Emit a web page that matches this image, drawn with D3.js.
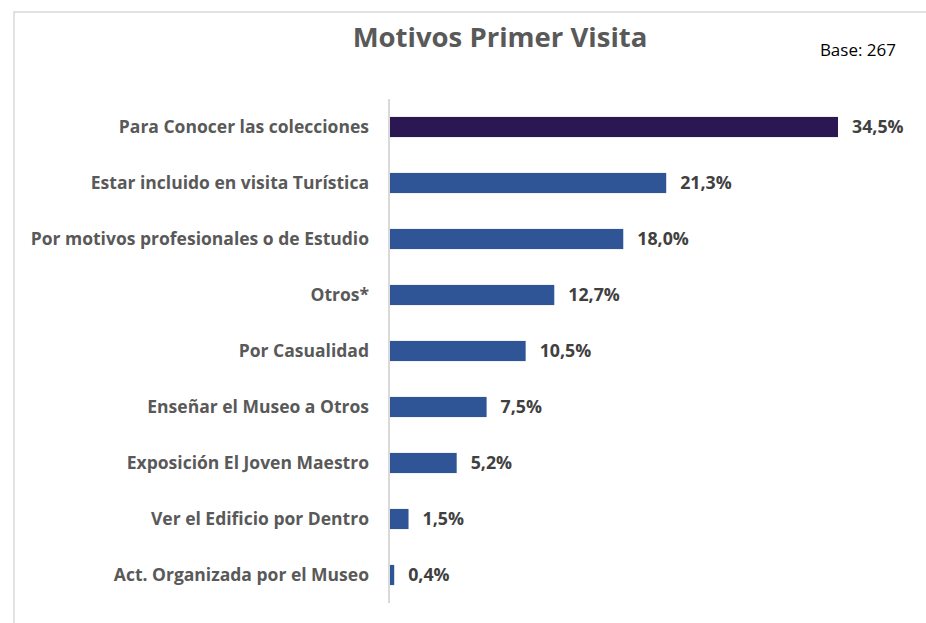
<!DOCTYPE html>
<html><head><meta charset="utf-8">
<script src="https://cdn.jsdelivr.net/npm/d3@7"></script>
<style>body{margin:0;background:#fff;} svg{display:block;}</style>
</head><body>
<svg id="c" width="926" height="623"></svg>
<script>
const categories = ["Para Conocer las colecciones","Estar incluido en visita Turística","Por motivos profesionales o de Estudio","Otros*","Por Casualidad","Enseñar el Museo a Otros","Exposición El Joven Maestro","Ver el Edificio por Dentro","Act. Organizada por el Museo"];
const values = [34.5,21.3,18.0,12.7,10.5,7.5,5.2,1.5,0.4];
const labels = ["34,5%","21,3%","18,0%","12,7%","10,5%","7,5%","5,2%","1,5%","0,4%"];
const colors = ["#2b1852","#2f5597"];

const svg = d3.select("#c");
const FONT = "'Open Sans', 'Liberation Sans', sans-serif";

// chart border
svg.append("rect").attr("x",14).attr("y",12).attr("width",930).attr("height",640)
  .attr("fill","none").attr("stroke","#d9d9d9").attr("stroke-width",1.5);

const x = d3.scaleLinear().domain([0,34.5]).range([389,838]);
const y = d3.scaleBand().domain(categories).range([99,603]).paddingInner(0.64).paddingOuter(0.32);

svg.append("text").attr("x",500).attr("y",47).attr("text-anchor","middle")
  .attr("font-family",FONT).attr("font-weight","bold").attr("font-size",27.5).attr("fill","#595959")
  .text("Motivos Primer Visita");
svg.append("text").attr("x",896).attr("y",56).attr("text-anchor","end")
  .attr("font-family",FONT).attr("font-size",17).attr("fill","#000")
  .text("Base: 267");

svg.selectAll("rect.bar").data(categories).join("rect").attr("class","bar")
  .attr("x",x(0)+1).attr("y",d=>y(d)).attr("height",y.bandwidth())
  .attr("width",(d,i)=>x(values[i])-x(0)-1)
  .attr("fill",(d,i)=>i===0?colors[0]:colors[1]);

const yAxis = d3.axisLeft(y).tickSize(0).tickPadding(20);
const g = svg.append("g").attr("transform","translate(389,0)").call(yAxis);
g.select(".domain").attr("stroke","#d9d9d9").attr("stroke-width",2)
  .attr("d","M0,99V603");
g.selectAll("text").attr("font-family",FONT).attr("font-weight","bold").attr("font-size",17.5).attr("fill","#595959");

svg.selectAll("text.val").data(categories).join("text").attr("class","val")
  .attr("x",(d,i)=>x(values[i])+14).attr("y",d=>y(d)+y.bandwidth()/2).attr("dy","0.36em")
  .attr("font-family",FONT).attr("font-weight","bold").attr("font-size",17.8).attr("fill","#404040")
  .text((d,i)=>labels[i]);
</script>
</body></html>
